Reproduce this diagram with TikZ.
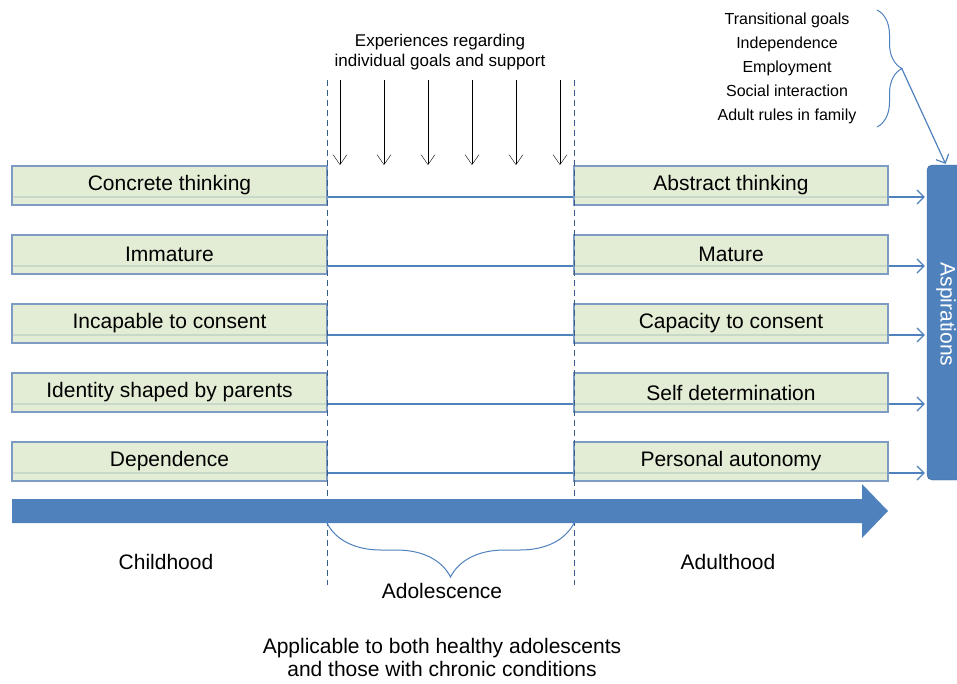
\documentclass[tikz,border=0pt]{standalone}
\usepackage{fontspec}
\setmainfont{Liberation Sans}
\usepackage{tikz}
\usetikzlibrary{arrows.meta}
\usetikzlibrary{calc}
\usetikzlibrary{decorations.pathreplacing}
\usetikzlibrary{positioning}
\definecolor{stageblue}{RGB}{79,129,189}
\definecolor{boxfill}{RGB}{222,233,205}
\definecolor{boxedge}{RGB}{125,155,195}
\definecolor{dashblue}{RGB}{56,93,138}
\tikzset{
  stage/.style={
    draw=boxedge, fill=boxfill, fill opacity=0.85, text opacity=1,
    line width=1.2pt, minimum width=315pt, minimum height=39pt,
    inner sep=0, font=\fontsize{21}{25}\selectfont
  },
  label/.style={inner sep=0, align=center, font=\fontsize{21}{23}\selectfont},
  rowline/.style={-{Straight Barb[length=7pt,width=14pt]}, stageblue, line width=1.2pt, shorten >=2pt},
  experience/.style={-{Straight Barb[length=10pt,width=14pt]}, thin},
  phase/.style={dashblue, line width=0.9pt, dash pattern=on 6pt off 4pt},
  curly/.style={decorate, stageblue, line width=1pt}
}
\begin{document}
\begin{tikzpicture}[x=1pt, y=-1pt]
  \useasboundingbox (0,0) rectangle (957,683);
  \node[fill=stageblue, draw=stageblue!80!black, rounded corners=5pt, minimum width=38pt, minimum height=315pt,
        inner sep=0] (asp) at (946,322.5) {};
  \node[white, rotate=-90, font=\fontsize{21}{25}\selectfont] at (asp.center) [xshift=-8pt] {Aspirations};
  \foreach \l/\r [count=\i] in {Concrete thinking/Abstract thinking, Immature/Mature,
      Incapable to consent/Capacity to consent, Identity shaped by parents/Self determination,
      Dependence/Personal autonomy} {
    \draw[rowline] ([yshift=-11.5pt]12,116.5+69*\i) -- ([yshift=-11.5pt]asp.west |- 12,116.5+69*\i);
    \node[stage] (L\i) at (169.5,116.5+69*\i) {\l};
    \node[stage, minimum width=314pt] (R\i) at (731,116.5+69*\i) {\r};
  }
  \draw[phase] (327,80) -- (327,585);
  \draw[phase] (574,80) -- (574,585);
  \node[label, font=\fontsize{17}{20}\selectfont] (exp) at (440,52) {Experiences regarding\\individual goals and support};
  \foreach \x in {340,384,428,472,516,560}
    \draw[experience] (\x,80) -- (\x,165);
  \fill[stageblue] (12,499) -- (862,499) -- (862,484) -- (888,511) -- (862,538) -- (862,523) -- (12,523) -- cycle;
  \coordinate (adolA) at (327,523);
  \coordinate (adolB) at (574,523);
  \draw[curly, decoration={brace, mirror, amplitude=54pt, aspect=0.5}] (adolA) -- (adolB);
  \node[label] (child) at (166,562) {Childhood};
  \node[label] (adult) at (728,562) {Adulthood};
  \node[label] (adol) at (442,591) {Adolescence};
  \node[label] (note) at (442,657) {Applicable to both healthy adolescents\\and those with chronic conditions};
  \node[label, font=\fontsize{16}{24}\selectfont] (goals) at (787,68)
    {Transitional goals\\Independence\\Employment\\Social interaction\\Adult rules in family};
  \coordinate (goalsA) at (877,10);
  \coordinate (goalsB) at (877,127);
  \coordinate (goalsTip) at (902,69);
  \draw[curly, decoration={brace, amplitude=25pt}] (goalsA) -- (goalsB);
  \draw[rowline, shorten >=1pt] (goalsTip) -- (asp.north);
\end{tikzpicture}
\end{document}
